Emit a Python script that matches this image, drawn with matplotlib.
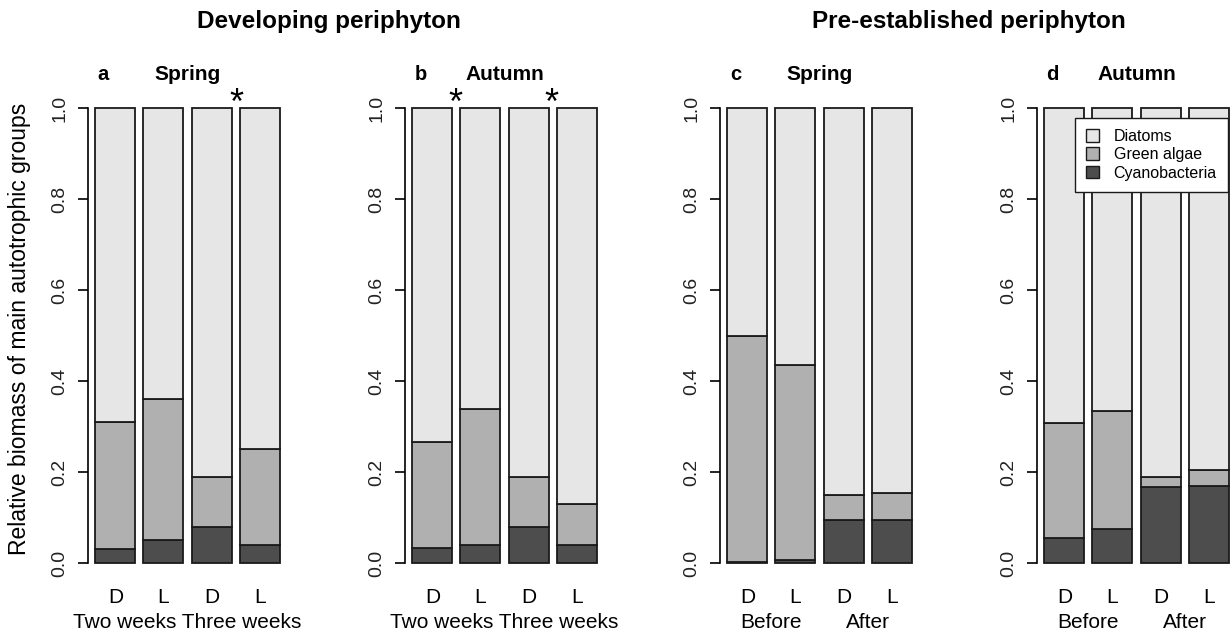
import numpy as np
import matplotlib
matplotlib.use('Agg')
import matplotlib.pyplot as plt
from matplotlib.patches import Patch

plt.rcParams['font.family'] = ['Liberation Sans', 'DejaVu Sans']

# --- data -------------------------------------------------------------
panel_letters = ['a', 'b', 'c', 'd']
seasons = ['Spring', 'Autumn', 'Spring', 'Autumn']
bar_labels = ['D', 'L', 'D', 'L']

# relative biomass (fractions) per bar, stacked bottom -> top
cyano_a = [0.030, 0.050, 0.080, 0.040]
green_a = [0.280, 0.310, 0.110, 0.210]
cyano_b = [0.034, 0.040, 0.080, 0.040]
green_b = [0.233, 0.298, 0.110, 0.090]
cyano_c = [0.003, 0.007, 0.095, 0.095]
green_c = [0.496, 0.428, 0.055, 0.058]
cyano_d = [0.054, 0.075, 0.168, 0.170]
green_d = [0.253, 0.258, 0.022, 0.035]

group_labels_dev = ['Two weeks Three weeks']
group_labels_pre = ['Before', 'After']

# asterisk positions (between bars, in bar units)
stars_a = [3.72]
stars_b = [1.28, 3.68]
stars_c = []
stars_d = []

groups = ['Diatoms', 'Green algae', 'Cyanobacteria']
colors = {'Diatoms': '#e6e6e6', 'Green algae': '#b0b0b0', 'Cyanobacteria': '#4d4d4d'}

# --- layout -----------------------------------------------------------
W, H = 1231, 637
fig = plt.figure(figsize=(W / 100, H / 100), dpi=100)

axis_left_px = [88, 405, 720, 1037]
ax_w_px = 199
y0_px, y1_px = 563, 108          # pixel rows of 0 and 1
unit = y0_px - y1_px
ax_bottom_px = y0_px + 0.04 * unit
ax_top_px = y1_px - 0.04 * unit

centers = 0.7 + 1.2 * np.arange(4)

panels = [
    (cyano_a, green_a, group_labels_dev, stars_a),
    (cyano_b, green_b, group_labels_dev, stars_b),
    (cyano_c, green_c, group_labels_pre, stars_c),
    (cyano_d, green_d, group_labels_pre, stars_d),
]

for i, (cy, gr, glabels, stars) in enumerate(panels):
    left = axis_left_px[i] / W
    bottom = 1 - ax_bottom_px / H
    height = (ax_bottom_px - ax_top_px) / H
    ax = fig.add_axes([left, bottom, ax_w_px / W, height])

    cy = np.array(cy)
    gr = np.array(gr)
    dia = 1 - cy - gr

    kw = dict(width=1.0, edgecolor='#1a1a1a', linewidth=1.3)
    ax.bar(centers, cy, color=colors['Cyanobacteria'], **kw)
    ax.bar(centers, gr, bottom=cy, color=colors['Green algae'], **kw)
    ax.bar(centers, dia, bottom=cy + gr, color=colors['Diatoms'], **kw)

    ax.set_xlim(0.016, 4.984)
    ax.set_ylim(-0.04, 1.04)
    for s in ['top', 'right', 'bottom']:
        ax.spines[s].set_visible(False)
    ax.spines['left'].set_bounds(0, 1)
    ax.spines['left'].set_linewidth(1.2)

    ax.set_yticks([0, 0.2, 0.4, 0.6, 0.8, 1.0])
    ax.set_yticklabels(['0.0', '0.2', '0.4', '0.6', '0.8', '1.0'],
                       rotation=90, va='center', fontsize=14, color='#222222')
    ax.tick_params(axis='y', length=7, width=1.2, pad=7)

    ax.set_xticks(centers)
    ax.set_xticklabels(bar_labels, fontsize=15)
    ax.tick_params(axis='x', length=0, pad=5)

    # group labels under the bars
    gy = (y0_px - 623) / unit
    if len(glabels) == 1:
        ax.text(2.5, gy, glabels[0], ha='center', va='center', fontsize=15,
                clip_on=False)
    else:
        for k, lab in enumerate(glabels):
            ax.text(centers[2 * k:2 * k + 2].mean(), gy, lab, ha='center',
                    va='center', fontsize=15, clip_on=False)

    ty = (y0_px - 80) / unit
    ax.text(0.40, ty, panel_letters[i], ha='center', va='baseline',
            fontsize=14.5, fontweight='bold', clip_on=False)
    ax.text(2.5, ty, seasons[i], ha='center', va='baseline',
            fontsize=15, fontweight='bold', clip_on=False)

    for sx in stars:
        ax.text(sx, (y0_px - 114) / unit, '*', ha='center', va='baseline',
                fontsize=26, clip_on=False)

    if i == 3:
        handles = [Patch(facecolor=colors[g], edgecolor='#1a1a1a', linewidth=1.0)
                   for g in groups]
        leg = ax.legend(handles, groups, loc='upper right',
                        bbox_to_anchor=(1228 / W, 1 - 118 / H),
                        bbox_transform=fig.transFigure, fontsize=11.5,
                        handlelength=0.85, handleheight=0.85, handletextpad=0.9,
                        labelspacing=0.2, borderpad=0.7, borderaxespad=0,
                        fancybox=False, framealpha=1)
        leg.get_frame().set_edgecolor('#1a1a1a')
        leg.get_frame().set_linewidth(1.0)

fig.text(20 / W, 1 - 329 / H, 'Relative biomass of main autotrophic groups',
         rotation=90, ha='center', va='center', fontsize=16.5)

fig.text(329 / W, 1 - 28 / H, 'Developing periphyton', ha='center',
         va='baseline', fontsize=17.5, fontweight='bold')
fig.text(969 / W, 1 - 28 / H, 'Pre-established periphyton', ha='center',
         va='baseline', fontsize=17.5, fontweight='bold')

fig.savefig('out.png', dpi=100)
